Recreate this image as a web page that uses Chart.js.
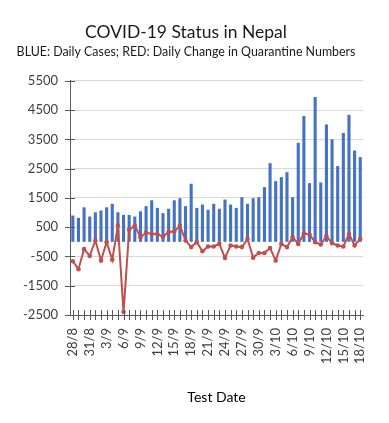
<!DOCTYPE html>
<html>
<head>
<meta charset="utf-8">
<script src="https://cdn.jsdelivr.net/npm/chart.js@4/dist/chart.umd.min.js"></script>
<style>
  html, body { margin: 0; padding: 0; background: #fff; }
</style>
</head>
<body>
<canvas id="myChart" width="389" height="423"></canvas>
<script>
const dates = [
  "28/8", "29/8", "30/8", "31/8",
  "1/9", "2/9", "3/9", "4/9", "5/9", "6/9", "7/9", "8/9", "9/9", "10/9",
  "11/9", "12/9", "13/9", "14/9", "15/9", "16/9", "17/9", "18/9", "19/9", "20/9",
  "21/9", "22/9", "23/9", "24/9", "25/9", "26/9", "27/9", "28/9", "29/9", "30/9",
  "1/10", "2/10", "3/10", "4/10", "5/10", "6/10", "7/10", "8/10", "9/10", "10/10",
  "11/10", "12/10", "13/10", "14/10", "15/10", "16/10", "17/10", "18/10"
];

// blue bars
const dailyCases = [
  900, 820, 1180, 865, 1010, 1070, 1180, 1300, 1010, 920,
  920, 865, 1045, 1220, 1420, 1160, 980, 1130, 1420, 1490,
  1220, 1985, 1160, 1275, 1095, 1300, 1130, 1445, 1275, 1160,
  1525, 1300, 1490, 1525, 1870, 2690, 2075, 2210, 2380, 1525,
  3385, 4300, 2005, 4950, 2030, 4010, 3500, 2590, 3720, 4340,
  3120, 2895
];

// red line
const quarantineChange = [
  -663, -935, -250, -480, 45, -640, -10, -615, 557, -2400,
  415, 557, 160, 320, 270, 270, 170, 340, 350, 557,
  45, -180, -10, -320, -160, -160, -70, -550, -125, -160,
  -180, 100, -540, -380, -380, -210, -640, -70, -180, 160,
  -70, 295, 250, -10, -90, 190, -45, -125, -160, 270,
  -125, 100
];

const yMin = -2500;
const yMax = 5500;
const yStep = 500;

const axisColor = "#595959";
const textColor = "#404040";
const fontName = "Lato, 'Liberation Sans', sans-serif";

// short tick marks that cross both axes, like the excel original
const crossTicks = {
  id: "crossTicks",
  afterDraw(chart) {
    const c = chart.ctx;
    const xs = chart.scales.x;
    const ys = chart.scales.y;
    c.save();
    c.strokeStyle = axisColor;
    c.lineWidth = 1;
    c.beginPath();
    ys.ticks.forEach((t) => {
      const y = Math.round(ys.getPixelForValue(t.value)) + 0.5;
      c.moveTo(ys.right - 5, y);
      c.lineTo(ys.right + 5, y);
    });
    for (let i = 0; i < dates.length; i++) {
      const x = Math.round(xs.getPixelForValue(i)) + 0.5;
      c.moveTo(x, xs.top - 5);
      c.lineTo(x, xs.top + 5);
    }
    c.stroke();
    c.restore();
  },
};

const ctx = document.getElementById("myChart");
const mychart = new Chart(ctx, {
  type: "bar",
  data: {
    labels: dates,
    datasets: [
      {
        type: "line",
        label: "Daily Change in Quarantine Numbers",
        data: quarantineChange,
        borderColor: "#C0504D",
        backgroundColor: "#C0504D",
        borderWidth: 2,
        pointRadius: 2.3,
        pointBorderWidth: 0,
        tension: 0,
        order: 0,
      },
      {
        type: "bar",
        label: "Daily Cases",
        data: dailyCases,
        backgroundColor: "#4472C4",
        categoryPercentage: 1,
        barPercentage: 0.55,
        order: 1,
      },
    ],
  },
  options: {
    responsive: false,
    animation: false,
    layout: {
      padding: { left: 0, right: 17, top: 0, bottom: 15 },
    },
    scales: {
      y: {
        min: yMin,
        max: yMax,
        afterFit: (scale) => { scale.width = 70; },
        ticks: {
          stepSize: yStep,
          padding: 12,
          color: textColor,
          font: { family: fontName, size: 13 },
          callback: (v) => (Math.abs(v) % 1000 === 500 ? v : ""),
        },
        grid: {
          color: "#d9d9d9",
          drawTicks: false,
        },
        border: { color: axisColor, width: 1 },
      },
      x: {
        afterFit: (scale) => { scale.height = 93; },
        ticks: {
          autoSkip: false,
          minRotation: 90,
          maxRotation: 90,
          padding: 13,
          color: textColor,
          font: { family: fontName, size: 13 },
          callback: (v, i) => (i % 3 === 0 ? dates[i] : ""),
        },
        grid: {
          display: true,
          drawOnChartArea: false,
          drawTicks: false,
          offset: false,
        },
        border: { color: axisColor, width: 1 },
        title: {
          display: true,
          text: "Test Date",
          color: "#000",
          font: { family: fontName, size: 14 },
          padding: { top: 0, bottom: 2 },
        },
      },
    },
    plugins: {
      legend: { display: false },
      tooltip: { enabled: false },
      title: {
        display: true,
        text: "COVID-19 Status in Nepal",
        color: "#1a1a1a",
        font: { family: fontName, size: 17.5, weight: "normal" },
        padding: { top: 22, bottom: 2 },
      },
      subtitle: {
        display: true,
        text: "BLUE: Daily Cases; RED: Daily Change in Quarantine Numbers",
        color: "#1a1a1a",
        font: { family: fontName, size: 12.4 },
        padding: { top: 0, bottom: 21 },
      },
    },
  },
  plugins: [crossTicks],
});
</script>
</body>
</html>
